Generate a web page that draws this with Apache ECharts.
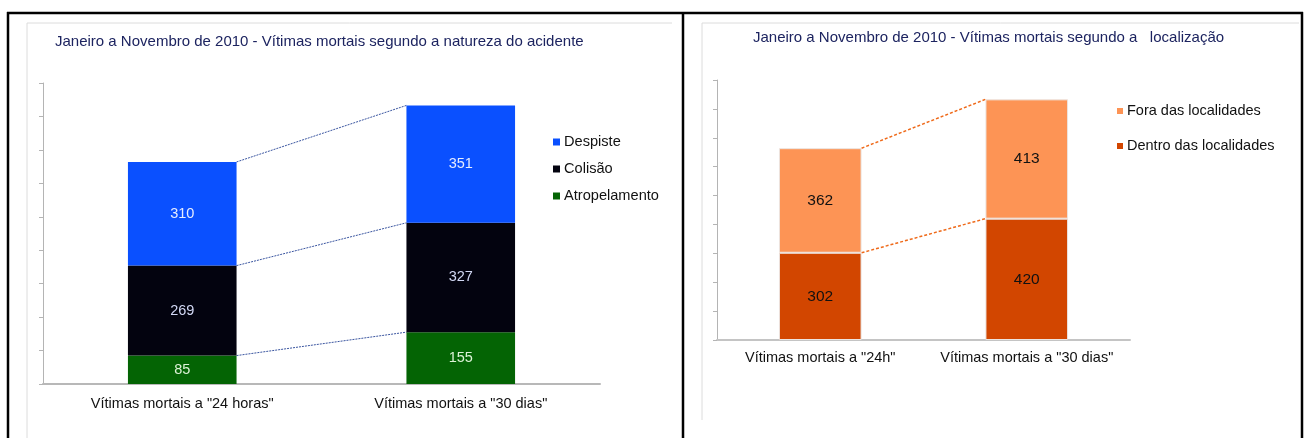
<!DOCTYPE html>
<html>
<head>
<meta charset="utf-8">
<script src="https://cdn.jsdelivr.net/npm/echarts@6/dist/echarts.min.js"></script>
<style>
  html, body { margin: 0; padding: 0; background: #fff; }
  #main { width: 1306px; height: 438px; }
</style>
</head>
<body>
<div id="main"></div>
<script>
// grafico 1 - natureza do acidente
const cats1 = ['Vítimas mortais a "24 horas"', 'Vítimas mortais a "30 dias"'];
const despiste = [310, 351];
const colisao = [269, 327];
const atropelamento = [85, 155];

// grafico 2 - localizacao
const cats2 = ['Vítimas mortais a "24h"', 'Vítimas mortais a "30 dias"'];
const fora = [362, 413];
const dentro = [302, 420];

const yTicks = { min: 0, max: 900, interval: 100 };

const arial = '"Liberation Sans", Arial, sans-serif';

/* niveis acumulados de cada serie, para as linhas entre barras */
function levels(seriesList) {
    let acc = [0, 0];
    return seriesList.map(s => {
        acc = [acc[0] + s[0], acc[1] + s[1]];
        return [0, acc[0], acc[1]];
    });
}

/* linhas de ligacao entre o topo de cada segmento (estilo Excel) */
function connectors(xIdx, yIdx, data, barFrac, lineStyle) {
    return {
        type: 'custom',
        xAxisIndex: xIdx,
        yAxisIndex: yIdx,
        silent: true,
        z: 1,
        encode: { x: 0, y: [1, 2] },
        data: data,
        renderItem: function (params, api) {
            let p0 = api.coord([0, api.value(1)]);
            let p1 = api.coord([1, api.value(2)]);
            let half = api.size([1, 0])[0] * barFrac / 2;
            return {
                type: 'line',
                shape: { x1: p0[0] + half, y1: p0[1], x2: p1[0] - half, y2: p1[1] },
                style: lineStyle
            };
        }
    };
}

function yAxis(gridIndex) {
    return {
        type: 'value',
        gridIndex: gridIndex,
        min: yTicks.min,
        max: yTicks.max,
        interval: yTicks.interval,
        axisLabel: { show: false },
        splitLine: { show: false },
        axisLine: { show: true, lineStyle: { color: '#b4b4b4', width: 1 } },
        axisTick: { show: true, length: 4, lineStyle: { color: '#b4b4b4' } }
    };
}

let myChart = echarts.init(document.getElementById('main'));

let option = {
    backgroundColor: '#fff',
    animation: false,
    title: [
        {
            text: 'Janeiro a Novembro de 2010 - Vítimas mortais segundo a natureza do acidente',
            left: 55, top: 32, padding: 0,
            textStyle: { fontFamily: arial, fontSize: 15, fontWeight: 'normal', color: '#1d2460', lineHeight: 20 }
        },
        {
            text: 'Janeiro a Novembro de 2010 - Vítimas mortais segundo a   localização',
            left: 753, top: 28, padding: 0,
            textStyle: { fontFamily: arial, fontSize: 15, fontWeight: 'normal', color: '#1d2460', lineHeight: 20 }
        }
    ],
    legend: [
        {
            data: ['Despiste', 'Colisão', 'Atropelamento'],
            orient: 'vertical',
            left: 553, top: 132,
            padding: 0,
            icon: 'rect',
            itemWidth: 7, itemHeight: 7, itemGap: 7,
            itemStyle: { borderWidth: 0 },
            textStyle: { fontFamily: arial, fontSize: 14.6, color: '#111', lineHeight: 20, padding: [0, 0, 0, -1] }
        },
        {
            data: ['Fora das localidades', 'Dentro das localidades'],
            orient: 'vertical',
            left: 1117, top: 102,
            padding: 0,
            icon: 'rect',
            itemWidth: 6, itemHeight: 6, itemGap: 17,
            itemStyle: { borderWidth: 0 },
            textStyle: { fontFamily: arial, fontSize: 14.5, color: '#111', lineHeight: 18, padding: [0, 0, 0, -1] }
        }
    ],
    grid: [
        { left: 43, right: 706, top: 83, bottom: 54 },
        { left: 717, right: 176, top: 80, bottom: 98 }
    ],
    xAxis: [
        {
            type: 'category', gridIndex: 0, data: cats1,
            axisLine: { lineStyle: { color: '#b8b8b8', width: 2 } },
            axisTick: { show: false },
            axisLabel: { interval: 0, fontFamily: arial, fontSize: 14.5, color: '#111', margin: 12 }
        },
        {
            type: 'category', gridIndex: 1, data: cats2,
            axisLine: { lineStyle: { color: '#c4c4c4', width: 2 } },
            axisTick: { show: false },
            axisLabel: { interval: 0, fontFamily: arial, fontSize: 14.5, color: '#111', margin: 10 }
        }
    ],
    yAxis: [yAxis(0), yAxis(1)],
    series: [
        {
            name: 'Atropelamento', type: 'bar', stack: 'a', barWidth: '39%',
            xAxisIndex: 0, yAxisIndex: 0, data: atropelamento,
            itemStyle: { color: '#046404' },
            label: { show: true, position: 'inside', fontFamily: arial, fontSize: 14.5, color: '#dcf2d6' }
        },
        {
            name: 'Colisão', type: 'bar', stack: 'a', barWidth: '39%',
            xAxisIndex: 0, yAxisIndex: 0, data: colisao,
            itemStyle: { color: '#03030f' },
            label: { show: true, position: 'inside', fontFamily: arial, fontSize: 14.5, color: '#d2d8f4' }
        },
        {
            name: 'Despiste', type: 'bar', stack: 'a', barWidth: '39%',
            xAxisIndex: 0, yAxisIndex: 0, data: despiste,
            itemStyle: { color: '#0a50ff' },
            label: { show: true, position: 'inside', fontFamily: arial, fontSize: 14.5, color: '#e6ecff' }
        },
        connectors(0, 0, levels([atropelamento, colisao, despiste]), 0.39,
            { stroke: '#3a55a0', lineWidth: 1, lineDash: [2, 1] }),
        {
            name: 'Dentro das localidades', type: 'bar', stack: 'b', barWidth: '40%',
            xAxisIndex: 1, yAxisIndex: 1, data: dentro,
            itemStyle: { color: '#d24600', borderColor: '#ece4e0', borderWidth: 1 },
            label: { show: true, position: 'inside', fontFamily: arial, fontSize: 15.5, color: '#111' }
        },
        {
            name: 'Fora das localidades', type: 'bar', stack: 'b', barWidth: '40%',
            xAxisIndex: 1, yAxisIndex: 1, data: fora,
            itemStyle: { color: '#fd9455', borderColor: '#ece4e0', borderWidth: 1 },
            label: { show: true, position: 'inside', fontFamily: arial, fontSize: 15.5, color: '#111' }
        },
        connectors(1, 1, levels([dentro, fora]), 0.40,
            { stroke: '#ef6a1a', lineWidth: 1.5, lineDash: [3, 2] })
    ],
    // moldura da tabela e das imagens
    graphic: [
        { type: 'polyline', silent: true, shape: { points: [[27, 438], [27, 23], [672, 23]] }, style: { stroke: '#dcdcdc', lineWidth: 1, fill: null } },
        { type: 'polyline', silent: true, shape: { points: [[702, 420], [702, 23], [1299, 23]] }, style: { stroke: '#dcdcdc', lineWidth: 1, fill: null } },
        { type: 'line', silent: true, shape: { x1: 7, y1: 13, x2: 1303, y2: 13 }, style: { stroke: '#000', lineWidth: 2.5 } },
        { type: 'line', silent: true, shape: { x1: 8, y1: 12, x2: 8, y2: 438 }, style: { stroke: '#000', lineWidth: 2.5 } },
        { type: 'line', silent: true, shape: { x1: 683, y1: 12, x2: 683, y2: 438 }, style: { stroke: '#000', lineWidth: 2.5 } },
        { type: 'line', silent: true, shape: { x1: 1302, y1: 12, x2: 1302, y2: 438 }, style: { stroke: '#000', lineWidth: 2.5 } }
    ]
};

myChart.setOption(option);
</script>
</body>
</html>
